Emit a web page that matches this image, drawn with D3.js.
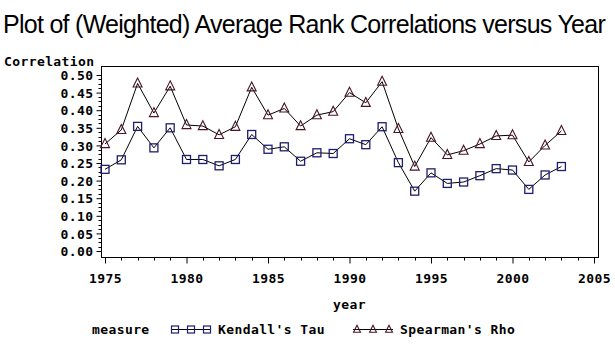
<!DOCTYPE html>
<html>
<head>
<meta charset="utf-8">
<script src="https://cdn.jsdelivr.net/npm/d3@7"></script>
<style>
  body { margin: 0; background: #fff; }
  text.mono { font-family: "DejaVu Sans Mono", monospace; font-weight: bold; font-size: 13px; letter-spacing: 0.4px; fill: #000; }
</style>
</head>
<body>
<svg id="chart" width="615" height="345"></svg>
<script>
// values
const years = [1975, 1976, 1977, 1978, 1979, 1980, 1981, 1982, 1983, 1984,
               1985, 1986, 1987, 1988, 1989, 1990, 1991, 1992, 1993, 1994,
               1995, 1996, 1997, 1998, 1999, 2000, 2001, 2002, 2003];
const kendallTau = [0.232, 0.259, 0.354, 0.293, 0.350, 0.260, 0.260, 0.242, 0.260, 0.331,
                    0.289, 0.296, 0.255, 0.279, 0.277, 0.319, 0.302, 0.353, 0.251, 0.170,
                    0.222, 0.192, 0.196, 0.214, 0.234, 0.230, 0.175, 0.216, 0.240];
const spearmanRho = [0.304, 0.344, 0.476, 0.392, 0.468, 0.358, 0.355, 0.330, 0.353, 0.465,
                     0.386, 0.405, 0.355, 0.386, 0.396, 0.450, 0.421, 0.481, 0.347, 0.240,
                     0.322, 0.273, 0.285, 0.304, 0.327, 0.329, 0.253, 0.300, 0.341];
const yTickValues = [0, 0.05, 0.10, 0.15, 0.20, 0.25, 0.30, 0.35, 0.40, 0.45, 0.50];
const xTickValues = [1975, 1980, 1985, 1990, 1995, 2000, 2005];
const seriesNames = ["Kendall's Tau", "Spearman's Rho"];
const titleText = "Plot of (Weighted) Average Rank Correlations versus Year";

const svg = d3.select("#chart");

// frame and scales
const frame = {left: 101, top: 66, right: 598, bottom: 257};
const x = d3.scaleLinear().domain([1975, 2005]).range([105, 594]);
const y = d3.scaleLinear().domain([0, 0.5]).range([251, 75]);

const squareColor = "#1e1e6e";
const triColor = "#4a1426";

// title: squeeze with letter spacing so it spans the width like the original
const title = svg.append("text")
    .attr("x", 3)
    .attr("y", 33)
    .style("font-family", "'Liberation Sans', Arial, sans-serif")
    .style("font-size", "25px")
    .text(titleText);
let natural = title.node().getComputedTextLength();
title.style("letter-spacing", ((602 - natural) / titleText.length) + "px");

svg.append("rect")
    .attr("x", frame.left + 0.5)
    .attr("y", frame.top + 0.5)
    .attr("width", frame.right - frame.left)
    .attr("height", frame.bottom - frame.top)
    .attr("fill", "none")
    .attr("stroke", "#000");

// y axis, ticks drawn outside left of frame
const yAxis = d3.axisLeft(y)
    .tickValues(yTickValues)
    .tickSize(5)
    .tickPadding(3)
    .tickFormat(d3.format(".2f"));

const yMinor = d3.range(0, 0.5001, 0.0125).filter(v => Math.abs(v * 20 - Math.round(v * 20)) > 1e-6);

const gy = svg.append("g")
    .attr("transform", `translate(${frame.left + 0.5},0)`);
gy.selectAll("line.minor")
  .data(yMinor)
  .enter().append("line")
    .attr("class", "minor")
    .attr("x1", -3).attr("x2", 0)
    .attr("y1", d => Math.round(y(d)) + 0.5)
    .attr("y2", d => Math.round(y(d)) + 0.5)
    .attr("stroke", "#000");
gy.call(yAxis);
gy.select(".domain").remove();
gy.selectAll(".tick line").attr("stroke", "#000");
gy.selectAll(".tick text")
    .attr("class", "mono")
    .attr("x", -8)
    .attr("dy", "0.36em")
    .style("font-family", null).style("font-size", null);

svg.append("text")
    .attr("class", "mono")
    .attr("x", 4)
    .attr("y", 66)
    .text("Correlation");

// x axis, ticks below frame
const xAxis = d3.axisBottom(x)
    .tickValues(xTickValues)
    .tickSize(6)
    .tickPadding(10)
    .tickFormat(d3.format("d"));

const gx = svg.append("g")
    .attr("transform", `translate(0,${frame.bottom + 0.5})`);
gx.selectAll("line.minor")
  .data(d3.range(1975, 2006).filter(d => d % 5 != 0))
  .enter().append("line")
    .attr("class", "minor")
    .attr("x1", d => Math.round(x(d)) + 0.5)
    .attr("x2", d => Math.round(x(d)) + 0.5)
    .attr("y1", 0).attr("y2", 3)
    .attr("stroke", "#000");
gx.call(xAxis);
gx.select(".domain").remove();
gx.selectAll(".tick line").attr("stroke", "#000");
gx.selectAll(".tick text")
    .attr("class", "mono")
    .style("font-family", null).style("font-size", null);

svg.append("text")
    .attr("class", "mono")
    .attr("x", (frame.left + frame.right) / 2)
    .attr("y", 309)
    .attr("text-anchor", "middle")
    .text("year");

// series
const line = d3.line()
    .x(d => x(d[0]))
    .y(d => y(d[1]));

const tauData = years.map((yr, i) => [yr, kendallTau[i]]);
const rhoData = years.map((yr, i) => [yr, spearmanRho[i]]);

const triPath = (s) => `M0,${-s * 0.6}L${s / 2},${s * 0.4}L${-s / 2},${s * 0.4}Z`;

[[rhoData, "tri"], [tauData, "sq"]].forEach(([data, kind]) => {
  svg.append("path")
      .datum(data)
      .attr("d", line)
      .attr("fill", "none")
      .attr("stroke", "#000")
      .attr("stroke-width", 1);

  const g = svg.append("g");
  if (kind == "sq") {
    g.selectAll("rect")
      .data(data)
      .enter().append("rect")
        .attr("x", d => x(d[0]) - 4)
        .attr("y", d => y(d[1]) - 4)
        .attr("width", 8)
        .attr("height", 8)
        .attr("fill", "none")
        .attr("stroke", squareColor)
        .attr("stroke-width", 1.3);
  } else {
    g.selectAll("path")
      .data(data)
      .enter().append("path")
        .attr("transform", d => `translate(${x(d[0])},${y(d[1])})`)
        .attr("d", triPath(9))
        .attr("fill", "none")
        .attr("stroke", triColor)
        .attr("stroke-width", 1.1);
  }
});

// legend
const legY = 329.5;
svg.append("text")
    .attr("class", "mono")
    .attr("x", 92)
    .attr("y", 334)
    .text("measure");

const legend = [
  {name: seriesNames[0], kind: "sq", x0: 171, tx: 218},
  {name: seriesNames[1], kind: "tri", x0: 353, tx: 400}
];
legend.forEach(item => {
  svg.append("line")
      .attr("x1", item.x0).attr("x2", item.x0 + 40)
      .attr("y1", legY).attr("y2", legY)
      .attr("stroke", "#000");
  [0, 16, 32].forEach(off => {
    const cx = item.x0 + 4 + off;
    if (item.kind == "sq") {
      svg.append("rect")
          .attr("x", cx - 3.5).attr("y", legY - 3.5)
          .attr("width", 7).attr("height", 7)
          .attr("fill", "none").attr("stroke", squareColor).attr("stroke-width", 1.2);
    } else {
      svg.append("path")
          .attr("transform", `translate(${cx},${legY})`)
          .attr("d", triPath(7))
          .attr("fill", "none").attr("stroke", triColor).attr("stroke-width", 1.1);
    }
  });
  svg.append("text")
      .attr("class", "mono")
      .attr("x", item.tx)
      .attr("y", 334)
      .text(item.name);
});
</script>
</body>
</html>
